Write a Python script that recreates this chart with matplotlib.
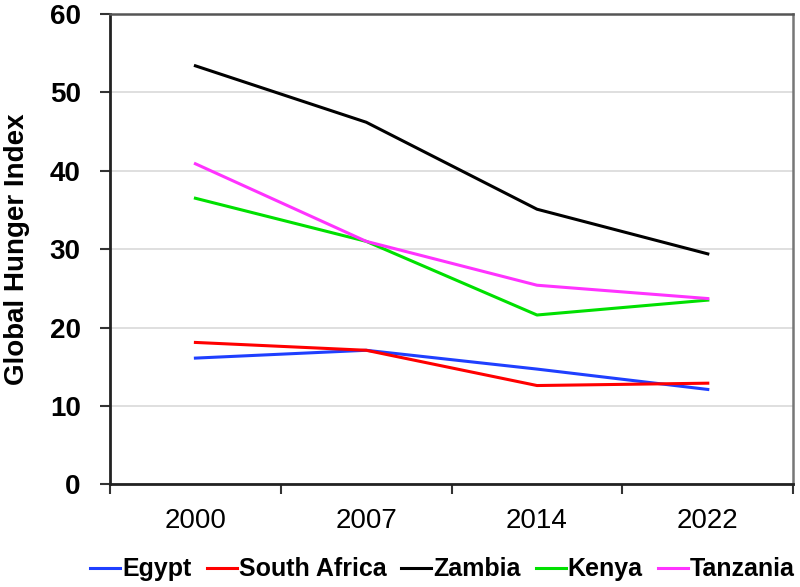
import matplotlib
matplotlib.use("Agg")
import matplotlib.pyplot as plt

# data
years = ["2000", "2007", "2014", "2022"]
egypt = [16.1, 17.1, 14.7, 12.1]
south_africa = [18.1, 17.1, 12.6, 12.9]
zambia = [53.4, 46.2, 35.1, 29.4]
kenya = [36.5, 31.0, 21.6, 23.5]
tanzania = [40.9, 31.0, 25.4, 23.7]

series = [("Egypt", egypt, "#1f3fff"),
          ("South Africa", south_africa, "#ff0000"),
          ("Zambia", zambia, "#000000"),
          ("Kenya", kenya, "#00e000"),
          ("Tanzania", tanzania, "#ff33ff")]

plt.rcParams["font.family"] = ["Liberation Sans", "DejaVu Sans"]

fig = plt.figure(figsize=(8, 5.87), dpi=100)
ax = fig.add_axes([0.1375, 0.175, 0.854, 0.801])

x = list(range(len(years)))
for name, vals, c in series:
    ax.plot(x, vals, color=c, lw=2.2, label=name)

ax.set_xlim(-0.5, len(years) - 0.5)
ax.set_ylim(0, 60)
ax.set_yticks(range(0, 61, 10))
ax.set_yticklabels([str(v) for v in range(0, 61, 10)],
                   fontsize=20, fontweight="bold")
ax.set_xticks(x)
ax.set_xticklabels(years, fontsize=20)
ax.set_xticks([i - 0.5 for i in range(len(years) + 1)], minor=True)
ax.tick_params(axis="x", which="major", length=0, pad=17)
ax.tick_params(axis="x", which="minor", length=7, width=1.5, color="#333333")
ax.tick_params(axis="y", length=7, width=1.5, color="#333333", pad=14)

ax.grid(axis="y", color="#d9d9d9", lw=1.2)
ax.set_axisbelow(True)
ax.spines["left"].set_linewidth(2)
ax.spines["left"].set_color("#222222")
ax.spines["bottom"].set_linewidth(2)
ax.spines["bottom"].set_color("#222222")
ax.spines["top"].set_linewidth(1.8)
ax.spines["top"].set_color("#555555")
ax.spines["right"].set_linewidth(1.8)
ax.spines["right"].set_color("#777777")

ax.set_ylabel("Global Hunger Index", fontsize=20, fontweight="bold", labelpad=14)

leg = fig.legend(loc="center left", ncol=5, frameon=False,
                 bbox_to_anchor=(0.113, 0.03), handlelength=1.2,
                 handletextpad=0.08, columnspacing=0.6,
                 borderpad=0, borderaxespad=0,
                 prop={"size": 18, "weight": "bold"})

fig.savefig("out.png", dpi=100)
